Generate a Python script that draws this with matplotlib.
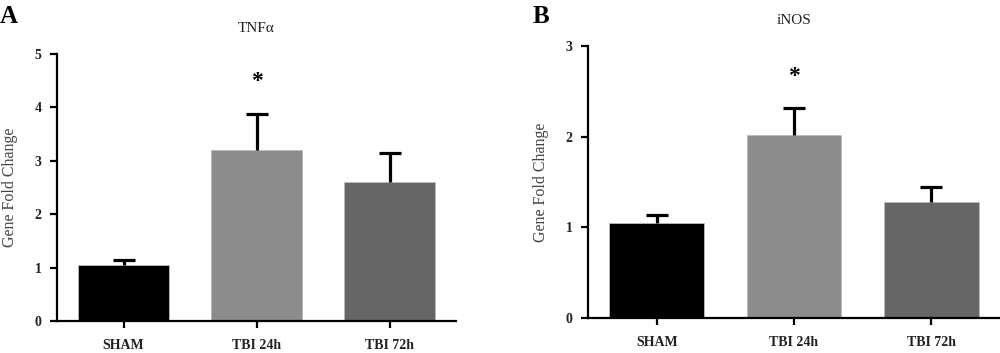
import matplotlib
matplotlib.use("Agg")
import matplotlib.pyplot as plt

categories = ["SHAM", "TBI 24h", "TBI 72h"]
tnf_values = [1.05, 3.20, 2.61]
tnf_errors = [0.09, 0.68, 0.54]
inos_values = [1.05, 2.02, 1.28]
inos_errors = [0.09, 0.29, 0.17]
tnf_ticks = [0, 1, 2, 3, 4, 5]
inos_ticks = [0, 1, 2, 3]
bar_colors = ["#000000", "#8c8c8c", "#666666"]

plt.rcParams['font.family'] = ['Liberation Serif', 'DejaVu Serif']

fig = plt.figure(figsize=(10, 3.53), dpi=100)

def panel(rect, values, errors, ticks, title, letter, letter_pos, star_y):
    ax = fig.add_axes(rect)
    x = list(range(len(categories)))
    tops = [v + e for v, e in zip(values, errors)]
    ax.bar(x, values, width=0.69, color=bar_colors, edgecolor="#bbbbbb", linewidth=0.6, zorder=2)
    ax.vlines(x, values, tops, colors="black", linewidth=2.3, zorder=3)
    ax.plot(x, tops, linestyle="none", marker="_", markersize=16, markeredgewidth=2.3,
            color="black", zorder=3)
    ax.set_xlim(-0.5, 2.5)
    ax.set_ylim(0, ticks[-1])
    ax.set_yticks(ticks)
    ax.set_xticks(x)
    ax.set_xticklabels(categories, fontsize=10, fontweight="bold", color="#222222")
    ax.set_yticklabels([str(t) for t in ticks], fontsize=10, fontweight="bold", color="#222222")
    for s in ["top", "right"]:
        ax.spines[s].set_visible(False)
    for s in ["left", "bottom"]:
        ax.spines[s].set_linewidth(1.6)
    ax.tick_params(axis="both", width=1.6, length=5, pad=6)
    ax.tick_params(axis="x", pad=8)
    ax.set_ylabel("Gene Fold Change", fontsize=11.5, color="#444444", labelpad=12)
    ax.set_title(title, fontsize=11, color="#222222", pad=16)
    ax.text(1, star_y, "*", ha="center", va="center", fontsize=17, fontweight="bold")
    fig.text(letter_pos[0], letter_pos[1], letter, fontsize=18, fontweight="bold", ha="left", va="center")
    return ax

panel([0.057, 0.091, 0.399, 0.756], tnf_values, tnf_errors, tnf_ticks, "TNFα", "A", (0.0, 0.952), 4.48)
panel([0.588, 0.099, 0.412, 0.771], inos_values, inos_errors, inos_ticks, "iNOS", "B", (0.533, 0.952), 2.66)

fig.savefig("out.png", dpi=100)
